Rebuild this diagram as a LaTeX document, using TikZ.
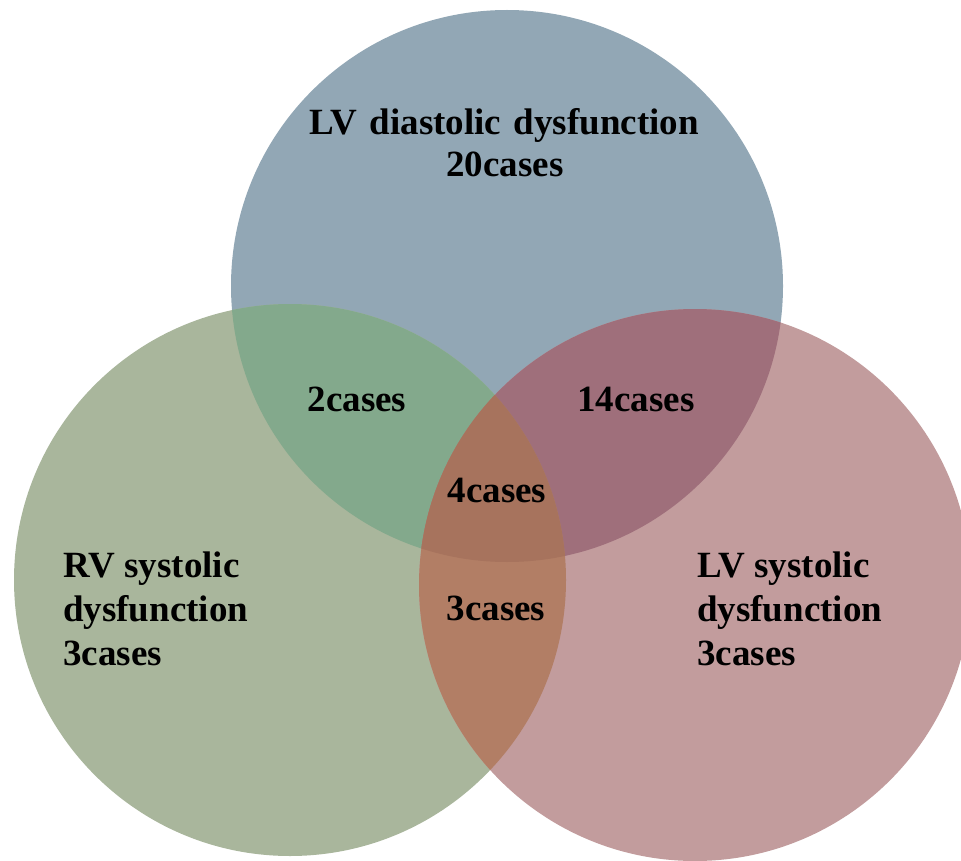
\documentclass[tikz,border=0pt]{standalone}
\usepackage{fontspec}
\setmainfont{Liberation Serif}
\definecolor{ctop}{RGB}{146,167,181}
\definecolor{cleft}{RGB}{169,182,156}
\definecolor{cright}{RGB}{194,156,157}
\definecolor{ctl}{RGB}{131,169,140}
\definecolor{ctr}{RGB}{159,111,123}
\definecolor{clr}{RGB}{178,126,101}
\definecolor{call}{RGB}{167,115,93}
\tikzset{
  lbl/.style={inner sep=0pt, font=\bfseries\fontsize{37}{44}\selectfont, text=black},
}
\begin{document}
\begin{tikzpicture}[x=1pt,y=-1pt]
\useasboundingbox (0,0) rectangle (961,861);
\clip (0,0) rectangle (961,861);
\coordinate (T) at (507,286);
\coordinate (L) at (290,580);
\coordinate (R) at (695,585);
\def\rad{276pt}
% base circles
\fill[ctop] (T) circle[radius=\rad];
\fill[cleft] (L) circle[radius=\rad];
\fill[cright] (R) circle[radius=\rad];
% pairwise overlaps
\begin{scope}
  \clip (T) circle[radius=\rad];
  \fill[ctl] (L) circle[radius=\rad];
  \fill[ctr] (R) circle[radius=\rad];
\end{scope}
\begin{scope}
  \clip (L) circle[radius=\rad];
  \fill[clr] (R) circle[radius=\rad];
\end{scope}
% triple overlap
\begin{scope}
  \clip (T) circle[radius=\rad];
  \clip (L) circle[radius=\rad];
  \fill[call] (R) circle[radius=\rad];
\end{scope}
% labels
\node[lbl, anchor=base] (t1) at (504,135) {LV\hspace{0.34em}diastolic\hspace{0.34em}dysfunction};
\node[lbl, anchor=base] (t2) at (505,177) {20cases};
\node[lbl, anchor=base] (tl) at (357,411) {2cases};
\node[lbl, anchor=base] (tr) at (636,411) {14cases};
\node[lbl, anchor=base] (c3) at (497,502) {4cases};
\node[lbl, anchor=base] (lr) at (496,620) {3cases};
\node[lbl, anchor=base west] (l1) at (63,577) {RV systolic};
\node[lbl, anchor=base west] (l2) at (63,621) {dysfunction};
\node[lbl, anchor=base west] (l3) at (63,665) {3cases};
\node[lbl, anchor=base west] (r1) at (697,577) {LV systolic};
\node[lbl, anchor=base west] (r2) at (697,621) {dysfunction};
\node[lbl, anchor=base west] (r3) at (697,665) {3cases};
\end{tikzpicture}
\end{document}
